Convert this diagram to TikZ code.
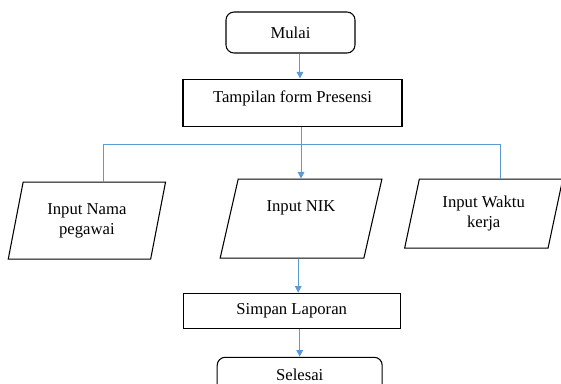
\documentclass[tikz,border=0pt]{standalone}
\usepackage{fontspec}
\setmainfont{Liberation Serif}
\usetikzlibrary{shapes.geometric, arrows.meta, positioning}
\definecolor{flowblue}{RGB}{91,155,213}

\begin{document}
\begin{tikzpicture}[x=0.75pt, y=-0.75pt,
  font=\fontsize{12.5}{15}\selectfont,
  startstop/.style={rectangle, rounded corners=6pt, draw, line width=0.8pt, inner sep=0pt},
  process/.style={rectangle, draw, line width=0.8pt, inner sep=0pt},
  io/.style={trapezium, trapezium left angle=75, trapezium right angle=105, trapezium stretches=true, draw, line width=0.8pt, inner sep=0pt, align=center},
  flow/.style={flowblue, line width=0.75pt},
  arrow/.style={flow, -{Triangle[width=5pt,length=5pt]}}]
\useasboundingbox (0,0) rectangle (561,383);

\node[startstop, minimum width=96.75pt, minimum height=30.75pt] (mulai) at (290.5,32.5) {Mulai};
\node[process, below=18.75pt of mulai, xshift=1.5pt, minimum width=164.25pt, minimum height=35.25pt, text depth=9pt] (tampil) {Tampilan form Presensi};

\node[io, below=39pt of tampil, xshift=6.4pt, minimum width=121.5pt, minimum height=59.25pt] (nik) {Input NIK\\\strut};
\node[io, left=52.5pt of nik, yshift=-1.5pt, minimum width=118.5pt, minimum height=57.75pt] (nama) {Input Nama\\pegawai};
\node[io, right=28.5pt of nik, yshift=3.75pt, minimum width=119.25pt, minimum height=51.75pt] (waktu) {Input Waktu\\kerja};

\node[process, below=25.5pt of nik, xshift=-7pt, minimum width=162.75pt, minimum height=26.25pt] (simpan) {Simpan Laporan};
\node[startstop, below=21pt of simpan, xshift=6pt, minimum width=123.75pt, minimum height=27pt] (selesai) {Selesai};

\coordinate[below=13.5pt of tampil, xshift=6.4pt] (split);

\draw[arrow] ([xshift=7.1pt]mulai.south) -- ([xshift=7.1pt]mulai.south |- tampil.north);
\draw[flow] (tampil.south -| split) -- (split);
\draw[arrow] (split) -- (split |- nik.north);
\draw[flow] (split) -| ([xshift=7.1pt]nama.top side);
\draw[flow] (split) -| ([xshift=7.1pt]waktu.top side);
\draw[arrow] ([xshift=4.9pt]simpan.north |- nik.south) -- ([xshift=4.9pt]simpan.north);
\draw[arrow] (selesai.north |- simpan.south) -- (selesai.north);
\end{tikzpicture}
\end{document}
